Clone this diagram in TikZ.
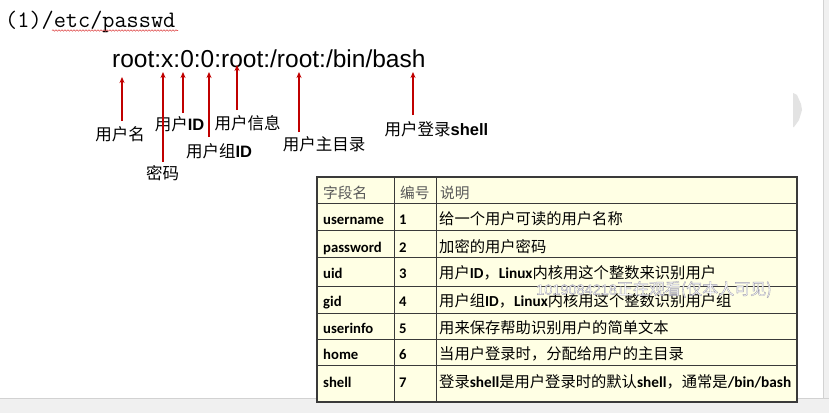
\documentclass[tikz,border=0pt]{standalone}
\usepackage{fontspec}
\setsansfont{Liberation Sans}
\newfontfamily\cjk{Noto Sans CJK SC}
\newfontfamily\cali{Carlito}
\usetikzlibrary{arrows.meta, decorations.pathmorphing}
\definecolor{arrred}{HTML}{C00000}
\definecolor{tblfill}{HTML}{FFFFE4}
\definecolor{tblline}{HTML}{3A3A3A}
\definecolor{hdgray}{HTML}{595959}
\definecolor{pagegray}{HTML}{F0F0F0}
\definecolor{edgegray}{HTML}{D2D2D2}
\definecolor{spellred}{HTML}{E05050}

\newcommand{\idb}[1]{{\sffamily\bfseries #1}}
\newcommand{\calb}[1]{{\cali\bfseries #1}}
% white letters with a grey outline
\newcommand{\wmtext}{\special{pdf:literal 2 Tr 0.35 w 0.62 0.61 0.68 RG}{\sffamily\fontsize{14.5}{18}\selectfont 1019084218}正在观看(仅本人可见)\special{pdf:literal 0 Tr}}

\tikzset{
  fieldarrow/.style={arrred, line width=1.1pt, -{Stealth[length=6pt, width=5pt]}},
  fieldlbl/.style={anchor=base, inner sep=0pt, font=\cjk\fontsize{16.5}{18}\selectfont},
  cellhd/.style={anchor=base west, inner sep=0pt, text=hdgray, font=\cjk\fontsize{14.7}{16}\selectfont},
  cellkey/.style={anchor=base west, inner sep=0pt, font=\cali\bfseries\fontsize{14.7}{16}\selectfont},
  celltxt/.style={anchor=base west, inner sep=0pt, font=\cjk\fontsize{15.3}{17}\selectfont},
  wmark/.style={inner sep=0pt, text=white, font=\cjk\fontsize{16}{18}\selectfont},
}

\begin{document}
\begin{tikzpicture}[x=1pt, y=-1pt]

\useasboundingbox (0,0) rectangle (829,413);

% Page and window edges
\fill[white] (0,0) rectangle (829,413);
\fill[pagegray] (0,398) rectangle (829,413);
\draw[edgegray] (0,398) -- (829,398);
\fill[pagegray] (823,0) rectangle (829,398);
\draw[edgegray] (823,0) -- (823,398);
\fill[gray!22] (793,93) -- (797,95) -- (801,104) -- (802,110) -- (799,120) -- (794,127) -- (793,127) -- cycle;

% Title
\node[anchor=base west, inner sep=0pt, font=\ttfamily\fontsize{23.6}{26}\selectfont] (title) at (5,27) {(1)/etc/passwd};
\draw[spellred, line width=0.6pt, decorate, decoration={snake, amplitude=0.7pt, segment length=3pt}] (52,30.5) -- (178,30.5);

% The passwd line
\node[anchor=base west, inner sep=0pt, font=\sffamily\fontsize{24.5}{28}\selectfont] (rootline) at (112,67) {root:x:0:0:root:/root:/bin/bash};

% --- Field labels ---
\node[fieldlbl] (lbluser) at (120,140.5) {用户名};
\node[fieldlbl] (lblpwd) at (162.5,179) {密码};
\node[fieldlbl] (lbluid) at (179.5,130) {用户\idb{ID}};
\node[fieldlbl] (lblgid) at (219,157) {用户组\idb{ID}};
\node[fieldlbl] (lblinfo) at (247.5,129) {用户信息};
\node[fieldlbl] (lblhome) at (324,150.5) {用户主目录};
\node[fieldlbl] (lblshell) at (436.5,135) {用户登录\idb{shell}};

% --- Arrows up to the fields ---
\coordinate (usertail) at (122,121);  \coordinate (userhead) at (122,77);
\coordinate (pwdtail) at (163,162);   \coordinate (pwdhead) at (163,72);
\coordinate (uidtail) at (183,113);   \coordinate (uidhead) at (183,72);
\coordinate (gidtail) at (209,137);   \coordinate (gidhead) at (209,72);
\coordinate (infotail) at (237,110);  \coordinate (infohead) at (237,65);
\coordinate (hometail) at (299,132);  \coordinate (homehead) at (299,72);
\coordinate (shelltail) at (413,115); \coordinate (shellhead) at (413,72);

\draw[fieldarrow] (usertail) -- (userhead);
\draw[fieldarrow] (pwdtail) -- (pwdhead);
\draw[fieldarrow] (uidtail) -- (uidhead);
\draw[fieldarrow] (gidtail) -- (gidhead);
\draw[fieldarrow] (infotail) -- (infohead);
\draw[fieldarrow] (hometail) -- (homehead);
\draw[fieldarrow] (shelltail) -- (shellhead);

% --- Table ---
\fill[tblfill] (317,177) rectangle (797,402);
\draw[tblline, line width=0.9pt]
  (317,203.5) -- (797,203.5)
  (317,230) -- (797,230)
  (317,257.5) -- (797,257.5)
  (317,286) -- (797,286)
  (317,313) -- (797,313)
  (317,339) -- (797,339)
  (317,365.5) -- (797,365.5)
  (394,177) -- (394,402)
  (436,177) -- (436,402);
\draw[tblline, line width=1.1pt] (317,177) rectangle (797,402);

% header
\node[cellhd] (hdname) at (323,198) {字段名};
\node[cellhd] (hdnum) at (400,198) {编号};
\node[cellhd] (hddesc) at (440,198) {说明};

% rows
\node[cellkey] (key1) at (323,224) {username};
\node[cellkey] (num1) at (399,224) {1};
\node[celltxt] (desc1) at (439,224) {给一个用户可读的用户名称};

\node[cellkey] (key2) at (323,252) {password};
\node[cellkey] (num2) at (399,252) {2};
\node[celltxt] (desc2) at (439,252) {加密的用户密码};

\node[cellkey] (key3) at (323,278) {uid};
\node[cellkey] (num3) at (399,278) {3};
\node[celltxt] (desc3) at (439,278) {用户\calb{ID}，\calb{Linux}内核用这个整数来识别用户};

\node[cellkey] (key4) at (323,306) {gid};
\node[cellkey] (num4) at (399,306) {4};
\node[celltxt] (desc4) at (439,306) {用户组\calb{ID}，\calb{Linux}内核用这个整数识别用户组};

\node[cellkey] (key5) at (323,333) {userinfo};
\node[cellkey] (num5) at (399,333) {5};
\node[celltxt] (desc5) at (439,333) {用来保存帮助识别用户的简单文本};

\node[cellkey] (key6) at (323,359) {home};
\node[cellkey] (num6) at (399,359) {6};
\node[celltxt] (desc6) at (439,359) {当用户登录时，分配给用户的主目录};

\node[cellkey] (key7) at (323,387) {shell};
\node[cellkey] (num7) at (399,387) {7};
\node[celltxt] (desc7) at (439,387) {登录\calb{shell}是用户登录时的默认\calb{shell}，通常是\calb{/bin/bash}};

% Watermark overlay
\node[wmark] (wm) at (654,289.5) {\wmtext};

\end{tikzpicture}
\end{document}
